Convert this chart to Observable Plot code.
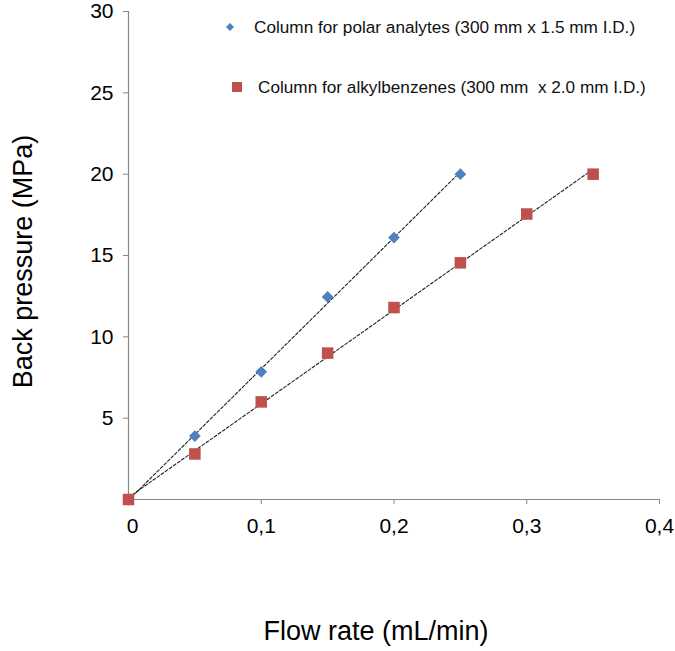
<!DOCTYPE html>
<html>
<head>
<meta charset="utf-8">
<script src="https://cdn.jsdelivr.net/npm/d3@7"></script>
<script src="https://cdn.jsdelivr.net/npm/@observablehq/plot@0.6"></script>
<style>
  html, body { margin: 0; padding: 0; background: #fff; }
  #wrap { position: relative; width: 675px; height: 651px; font-family: "Liberation Sans", Arial, sans-serif; }
  .leg { position: absolute; font-size: 17.2px; line-height: 20px; color: #111; white-space: pre; }
</style>
</head>
<body>
<div id="wrap"></div>
<script>
// Data
const flowPolar = [0, 0.05, 0.10, 0.15, 0.20, 0.25];
const pressurePolar = [0, 3.9, 7.85, 12.45, 16.1, 20.0];
const flowAlkyl = [0, 0.05, 0.10, 0.15, 0.20, 0.25, 0.30, 0.35];
const pressureAlkyl = [0, 2.8, 6.0, 9.0, 11.8, 14.55, 17.55, 20.0];
const seriesNames = ["Column for polar analytes (300 mm x 1.5 mm I.D.)", "Column for alkylbenzenes (300 mm  x 2.0 mm I.D.)"];
const colors = ["#4F81BD", "#C0504D"];
const yTicks = [5, 10, 15, 20, 25, 30];
const xTicks = [0, 0.1, 0.2, 0.3, 0.4];

const polar = flowPolar.map((x, i) => ({x, y: pressurePolar[i]}));
const alkyl = flowAlkyl.map((x, i) => ({x, y: pressureAlkyl[i]}));
const fmt = d => String(d).replace(".", ",");

const chart = Plot.plot({
  width: 675,
  height: 651,
  marginLeft: 128,
  marginRight: 16,
  marginTop: 11,
  marginBottom: 152,
  style: {fontFamily: "'Liberation Sans', Arial, sans-serif", background: "#fff", color: "#000"},
  x: {domain: [0, 0.4]},
  y: {domain: [0, 30]},
  marks: [
    Plot.ruleX([0], {stroke: "#888", strokeWidth: 1.2}),
    Plot.ruleY([0], {stroke: "#888", strokeWidth: 1.2}),
    Plot.axisY({ticks: yTicks, tickSize: 5, tickPadding: 10, fontSize: 21, stroke: "#888", label: null, tickFormat: fmt}),
    Plot.axisX({ticks: xTicks.filter(d => d > 0), tickSize: 5, tickPadding: 14, fontSize: 21, stroke: "#888", label: null, tickFormat: fmt}),
    Plot.axisX({ticks: [0], tickSize: 0, tickPadding: 19, fontSize: 21, label: null, tickFormat: fmt, dx: 4}),
    Plot.linearRegressionY(polar, {x: "x", y: "y", ci: 0, stroke: "#222", strokeWidth: 1.1, strokeDasharray: "3,2"}),
    Plot.linearRegressionY(alkyl, {x: "x", y: "y", ci: 0, stroke: "#222", strokeWidth: 1.1, strokeDasharray: "3,2"}),
    Plot.dot(polar, {x: "x", y: "y", symbol: "diamond2", r: 5.3, fill: colors[0], stroke: "none"}),
    Plot.dot(alkyl, {x: "x", y: "y", symbol: "square", r: 6.5, fill: colors[1], stroke: "none"}),
    Plot.text(["Back pressure (MPa)"], {frameAnchor: "left", textAnchor: "middle", dx: -105, dy: 6, rotate: -90, fontSize: 27, fill: "#000"}),
    Plot.text(["Flow rate (mL/min)"], {frameAnchor: "bottom", dx: -18, dy: 140, fontSize: 27, fill: "#000"})
  ]
});

const wrap = document.getElementById("wrap");
wrap.appendChild(chart);

// Legend (inside the plot area, as in the reference)
const legendPos = [{left: 254, top: 17, sx: 230, sy: 27}, {left: 258, top: 77, sx: 237, sy: 87}];
seriesNames.forEach((name, i) => {
  const t = document.createElement("div");
  t.className = "leg";
  t.style.left = legendPos[i].left + "px";
  t.style.top = legendPos[i].top + "px";
  t.textContent = name;
  wrap.appendChild(t);
  const s = document.createElementNS("http://www.w3.org/2000/svg", "svg");
  s.setAttribute("width", 14); s.setAttribute("height", 14);
  s.style.position = "absolute";
  s.style.left = (legendPos[i].sx - 7) + "px";
  s.style.top = (legendPos[i].sy - 7) + "px";
  s.innerHTML = i === 0
    ? `<path d="M7,3 L11,7 L7,11 L3,7 Z" fill="${colors[0]}"/>`
    : `<rect x="2" y="2" width="10" height="10" fill="${colors[1]}"/>`;
  wrap.appendChild(s);
});
</script>
</body>
</html>
